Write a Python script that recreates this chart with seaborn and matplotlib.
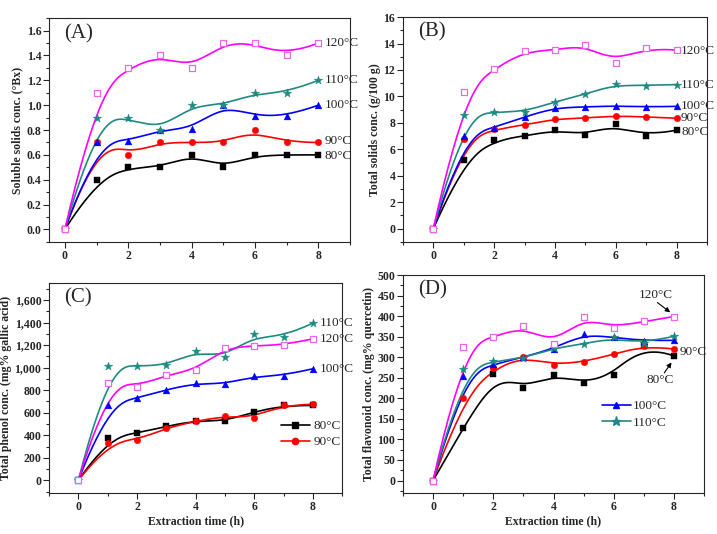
import numpy as np
import matplotlib
matplotlib.use("Agg")
import matplotlib.pyplot as plt
from matplotlib.lines import Line2D
from matplotlib.ticker import MultipleLocator, FuncFormatter
import seaborn as sns

sns.set_style("ticks")
plt.rcParams["font.family"] = ["Liberation Serif", "DejaVu Serif"]

time_h = [0, 1, 2, 3, 4, 5, 6, 7, 8]
temps = ["80°C", "90°C", "100°C", "110°C", "120°C"]

# (A) soluble solids, °Bx
soluble = {
    "80°C": [0, 0.40, 0.50, 0.50, 0.60, 0.50, 0.60, 0.60, 0.60],
    "90°C": [0, 0.70, 0.60, 0.70, 0.70, 0.70, 0.80, 0.70, 0.70],
    "100°C": [0, 0.70, 0.71, 0.80, 0.81, 1.00, 0.91, 0.91, 1.00],
    "110°C": [0, 0.90, 0.90, 0.80, 1.00, 1.00, 1.10, 1.10, 1.20],
    "120°C": [0, 1.10, 1.30, 1.40, 1.30, 1.50, 1.50, 1.40, 1.50],
}
# (B) total solids, g/100 g
total_solids = {
    "80°C": [0, 5.2, 6.7, 7.0, 7.45, 7.1, 7.9, 7.0, 7.45],
    "90°C": [0, 6.75, 7.5, 7.85, 8.3, 8.35, 8.55, 8.45, 8.35],
    "100°C": [0, 7.0, 7.65, 8.45, 9.15, 9.2, 9.3, 9.2, 9.25],
    "110°C": [0, 8.6, 8.8, 8.85, 9.6, 10.15, 10.95, 10.8, 10.9],
    "120°C": [0, 10.3, 12.1, 13.4, 13.5, 13.9, 12.5, 13.7, 13.5],
}
# (C) total phenol, mg% gallic acid
phenol = {
    "80°C": [0, 375, 420, 480, 530, 525, 610, 665, 665],
    "90°C": [0, 335, 355, 465, 525, 570, 555, 670, 675],
    "100°C": [0, 670, 730, 805, 860, 855, 925, 930, 990],
    "110°C": [0, 1015, 1015, 1020, 1145, 1090, 1295, 1270, 1395],
    "120°C": [0, 860, 830, 935, 980, 1175, 1195, 1200, 1255],
}
# (D) total flavonoid, mg% quercetin
flavonoid = {
    "80°C": [0, 127, 259, 225, 257, 238, 257, 330, 303],
    "90°C": [0, 202, 273, 300, 282, 289, 307, 328, 320],
    "100°C": [0, 255, 283, 300, 321, 356, 348, 340, 341],
    "110°C": [0, 271, 290, 298, 322, 332, 348, 334, 351],
    "120°C": [0, 326, 349, 375, 332, 398, 370, 387, 399],
}

colors = {"80°C": "#000000", "90°C": "#ff0000", "100°C": "#0000ff",
          "110°C": "#1f8a80", "120°C": "#ff00ff"}
markers = {"80°C": "s", "90°C": "o", "100°C": "^", "110°C": "*", "120°C": "s"}
msize = {"80°C": 16, "90°C": 22, "100°C": 24, "110°C": 42, "120°C": 20}


def bspline(x, y, n=300, k=3):
    # clamped cubic B-spline with the data points as control points
    P = np.column_stack([x, y]).astype(float)
    m = len(P)
    knots = np.concatenate([[0] * k, np.arange(m - k + 1), [m - k] * k]).astype(float)
    t = np.linspace(0, m - k, n)
    B = np.zeros((n, len(knots) - 1))
    for i in range(len(knots) - 1):
        B[:, i] = (knots[i] <= t) & (t < knots[i + 1])
    B[-1, m - 1] = 1
    for d in range(1, k + 1):
        Bn = np.zeros((n, len(knots) - 1 - d))
        for i in range(len(knots) - 1 - d):
            a = knots[i + d] - knots[i]
            b = knots[i + d + 1] - knots[i + 1]
            term = np.zeros(n)
            if a > 0:
                term += (t - knots[i]) / a * B[:, i]
            if b > 0:
                term += (knots[i + d + 1] - t) / b * B[:, i + 1]
            Bn[:, i] = term
        B = Bn
    C = B @ P
    return C[:, 0], C[:, 1]


def draw(ax, data):
    for tmp in temps:
        cx, cy = bspline(time_h, data[tmp])
        sns.lineplot(x=cx, y=cy, sort=False, estimator=None, color=colors[tmp],
                     lw=1.2, ax=ax)
    for tmp in temps:
        if tmp == "120°C":
            sns.scatterplot(x=time_h, y=data[tmp], marker="s", color="white",
                            edgecolor="#e868e8", linewidth=0.9, s=msize[tmp],
                            ax=ax, zorder=5)
        else:
            sns.scatterplot(x=time_h, y=data[tmp], marker=markers[tmp],
                            color=colors[tmp], edgecolor=colors[tmp], linewidth=0.3,
                            s=msize[tmp], ax=ax, zorder=5)


def style(ax, ylim, ymaj, ymin, xlim, ylabel, panel, xlabel=None, comma=False):
    ax.set_xlim(*xlim)
    ax.set_ylim(*ylim)
    ax.xaxis.set_major_locator(MultipleLocator(2))
    ax.xaxis.set_minor_locator(MultipleLocator(1))
    ax.yaxis.set_major_locator(MultipleLocator(ymaj))
    ax.yaxis.set_minor_locator(MultipleLocator(ymin))
    if comma:
        ax.yaxis.set_major_formatter(FuncFormatter(lambda v, p: f"{int(v):,}"))
    ax.tick_params(which="major", direction="out", length=4, width=0.8, pad=1.5,
                   labelsize=8.5, top=False, right=False)
    ax.tick_params(which="minor", direction="out", length=2, width=0.8,
                   top=False, right=False)
    for lab in ax.get_xticklabels() + ax.get_yticklabels():
        lab.set_fontweight("bold")
    for sp in ax.spines.values():
        sp.set_visible(True)
        sp.set_linewidth(0.8)
    ax.set_ylabel(ylabel, fontsize=8.5, fontweight="bold", labelpad=2)
    ax.set_xlabel(xlabel if xlabel else "", fontsize=8.5, fontweight="bold",
                  labelpad=2)
    ax.text(0.05, 0.975, panel, transform=ax.transAxes, fontsize=15, va="top",
            ha="left")


fig = plt.figure(figsize=(7.17, 5.34), dpi=100)
axA = fig.add_axes([0.0683, 0.547, 0.420, 0.419])
axB = fig.add_axes([0.562, 0.547, 0.424, 0.421])
axC = fig.add_axes([0.0683, 0.077, 0.409, 0.393])
axD = fig.add_axes([0.562, 0.077, 0.420, 0.408])

lab_kw = dict(fontsize=9.5, va="center", ha="left")

# (A)
draw(axA, soluble)
style(axA, (-0.1, 1.7), 0.2, 0.1, (-0.5, 9), "Soluble solids conc. (°Bx)", "(A)")
axA.yaxis.set_major_formatter(FuncFormatter(lambda v, p: f"{v:.1f}"))
for lab in axA.get_yticklabels():
    lab.set_fontweight("bold")
for tmp, yy in zip(temps, [0.59, 0.71, 1.0, 1.2, 1.5]):
    axA.text(8.2, yy, tmp, **lab_kw)

# (B)
draw(axB, total_solids)
style(axB, (-1, 16), 2, 1, (-1, 9), "Total solids conc. (g/100 g)", "(B)")
for tmp, yy in zip(temps, [7.3, 8.4, 9.25, 10.9, 13.4]):
    axB.text(8.15, yy, tmp, **lab_kw)

# (C)
draw(axC, phenol)
style(axC, (-110, 1750), 200, 100, (-1, 9), "Total phenol conc. (mg% gallic acid)",
      "(C)", xlabel="Extraction time (h)", comma=True)
for lab in axC.get_yticklabels():
    lab.set_fontweight("bold")
for tmp, yy in zip(["100°C", "110°C", "120°C"], [985, 1395, 1255]):
    axC.text(8.25, yy, tmp, **lab_kw)
hC = [Line2D([], [], color=colors[t], marker=markers[t], markersize=4.5, lw=1.2)
      for t in ["80°C", "90°C"]]
axC.legend(hC, ["80°C", "90°C"], loc="center left", bbox_to_anchor=(0.75, 0.28),
           frameon=False, fontsize=9.5, handlelength=2.2, handletextpad=0.3,
           labelspacing=0.3)

# (D)
draw(axD, flavonoid)
style(axD, (-30, 500), 50, 25, (-1, 9), "Total flavonoid conc. (mg% quercetin)",
      "(D)", xlabel="Extraction time (h)")
axD.text(8.2, 312, "90°C", **lab_kw)
axD.text(7.4, 452, "120°C", fontsize=9.5, ha="center", va="center")
axD.text(7.55, 245, "80°C", fontsize=9.5, ha="center", va="center")
arrow = dict(arrowstyle="-|>", color="black", lw=0.8, shrinkA=0, shrinkB=2,
             mutation_scale=7)
axD.annotate("", xy=(7.95, 405), xytext=(7.45, 433), arrowprops=arrow)
axD.annotate("", xy=(7.97, 293), xytext=(7.68, 262), arrowprops=arrow)
hD = [Line2D([], [], color=colors[t], marker=markers[t],
             markersize=4.5 if t == "100°C" else 6.5, lw=1.2)
      for t in ["100°C", "110°C"]]
axD.legend(hD, ["100°C", "110°C"], loc="center left", bbox_to_anchor=(0.62, 0.36),
           frameon=False, fontsize=9.5, handlelength=2.2, handletextpad=0.2,
           labelspacing=0.3)

fig.savefig("out.png", dpi=100)
